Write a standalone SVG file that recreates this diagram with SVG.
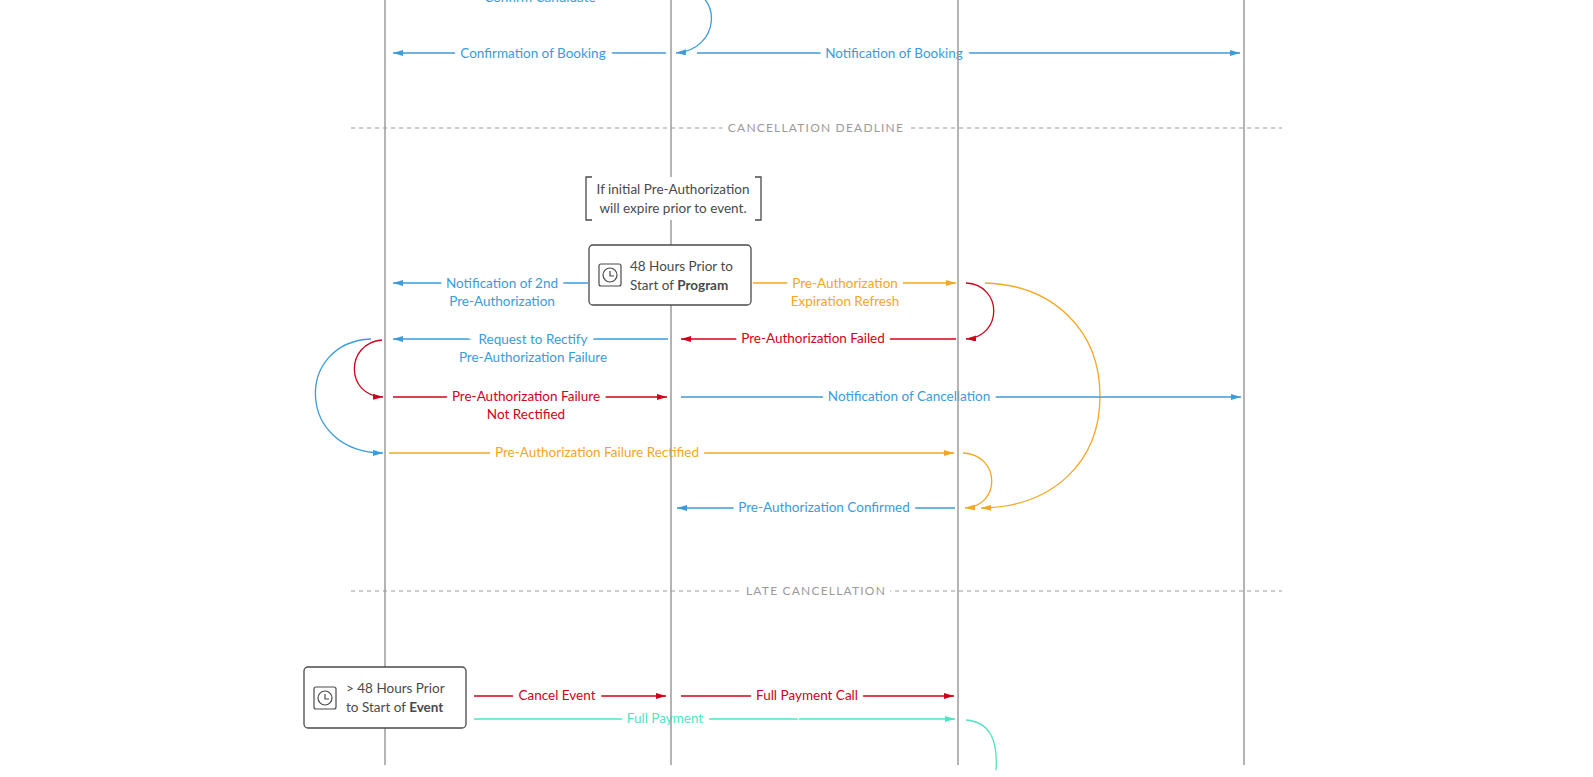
<svg xmlns="http://www.w3.org/2000/svg" width="1593" height="777" viewBox="0 0 1593 777">
<style>
text{font-family:Lato,"Liberation Sans",sans-serif;font-size:13.5px;text-anchor:middle}
.lbl{paint-order:stroke;stroke:#fff;stroke-width:12px;stroke-linejoin:miter}
.b{fill:#3b9bdb}.o{fill:#f5a623}.r{fill:#d0021b}.t{fill:#50e3c2}
.lb{stroke:#3b9bdb}.lo{stroke:#f5a623}.lr{stroke:#d0021b}.lt{stroke:#50e3c2}
.c path,.c line{fill:none;stroke-width:1.3}
.life{stroke:#9b9b9b;stroke-width:1.5}
.dash{stroke:#9b9b9b;stroke-width:1;stroke-dasharray:4 4}
.sec{fill:#9b9b9b;font-size:12px;letter-spacing:1.2px}
.box{fill:#fff;stroke:#4a4a4a;stroke-width:1.3}
.nt{fill:#4a4a4a;text-anchor:start}
</style>
<defs>
<marker id="mb" viewBox="0 0 10 6" refX="10" refY="3" markerWidth="10" markerHeight="6" markerUnits="userSpaceOnUse" orient="auto"><path d="M0 0L10 3L0 6z" fill="#3b9bdb"/></marker>
<marker id="mo" viewBox="0 0 10 6" refX="10" refY="3" markerWidth="10" markerHeight="6" markerUnits="userSpaceOnUse" orient="auto"><path d="M0 0L10 3L0 6z" fill="#f5a623"/></marker>
<marker id="mr" viewBox="0 0 10 6" refX="10" refY="3" markerWidth="10" markerHeight="6" markerUnits="userSpaceOnUse" orient="auto"><path d="M0 0L10 3L0 6z" fill="#d0021b"/></marker>
<marker id="mt" viewBox="0 0 10 6" refX="10" refY="3" markerWidth="10" markerHeight="6" markerUnits="userSpaceOnUse" orient="auto"><path d="M0 0L10 3L0 6z" fill="#50e3c2"/></marker>
</defs>
<rect width="1593" height="777" fill="#fff"/>
<g id="sections">
<line class="dash" x1="351" y1="128" x2="1282" y2="128"/>
<text class="sec lbl" x="816" y="132">CANCELLATION DEADLINE</text>
<line class="dash" x1="351" y1="591" x2="1282" y2="591"/>
<text class="sec lbl" x="816" y="595">LATE CANCELLATION</text>
</g>
<g id="connectors" class="c">
<path class="lb" d="M680 -13C725 -8 720 50 676 53" marker-end="url(#mb)"/>
<line class="lb" x1="666" y1="53" x2="393" y2="53" marker-end="url(#mb)"/>
<line class="lb" x1="697" y1="53" x2="1240" y2="53" marker-end="url(#mb)"/>
<line class="lb" x1="588" y1="283" x2="393" y2="283" marker-end="url(#mb)"/>
<line class="lo" x1="753" y1="283" x2="956" y2="283" marker-end="url(#mo)"/>
<path class="lr" d="M966 283C1003 285 1003 337 966 339" marker-end="url(#mr)"/>
<path class="lo" d="M985 283C1053 285 1100 330 1100 396C1100 462 1053 507 981 508" marker-end="url(#mo)"/>
<line class="lr" x1="956" y1="339" x2="681" y2="339" marker-end="url(#mr)"/>
<line class="lb" x1="668" y1="339" x2="393" y2="339" marker-end="url(#mb)"/>
<path class="lb" d="M371 339C295 342 295 452 383 453" marker-end="url(#mb)"/>
<path class="lr" d="M382 340C345 343 345 396 383 397" marker-end="url(#mr)"/>
<line class="lr" x1="393" y1="397" x2="667" y2="397" marker-end="url(#mr)"/>
<line class="lb" x1="681" y1="397" x2="1241" y2="397" marker-end="url(#mb)"/>
<line class="lo" x1="389" y1="453" x2="954" y2="453" marker-end="url(#mo)"/>
<path class="lo" d="M963 453C1001 455 1001 506 965 508" marker-end="url(#mo)"/>
<line class="lb" x1="955" y1="508" x2="677" y2="508" marker-end="url(#mb)"/>
<line class="lr" x1="474" y1="696" x2="666" y2="696" marker-end="url(#mr)"/>
<line class="lr" x1="681" y1="696" x2="954" y2="696" marker-end="url(#mr)"/>
<line class="lt" x1="474" y1="719" x2="955" y2="719" marker-end="url(#mt)"/>
<path class="lt" d="M966 720C990 722 998 740 996 770"/>
</g>
<g id="labels">
<text class="b lbl" x="540" y="2">Confirm Candidate</text>
<text class="b lbl" x="533" y="58">Confirmation of Booking</text>
<text class="b lbl" x="894" y="58">Notification of Booking</text>
<text class="b lbl" x="502" y="288">Notification of 2nd</text>
<text class="b" x="502" y="306">Pre-Authorization</text>
<text class="o lbl" x="845" y="288">Pre-Authorization</text>
<text class="o" x="845" y="306">Expiration Refresh</text>
<text class="r lbl" x="813" y="343">Pre-Authorization Failed</text>
<text class="b lbl" x="533" y="344">Request to Rectify</text>
<text class="b" x="533" y="362">Pre-Authorization Failure</text>
<text class="r lbl" x="526" y="401">Pre-Authorization Failure</text>
<text class="r" x="526" y="419">Not Rectified</text>
<text class="b lbl" x="909" y="401">Notification of Cancellation</text>
<text class="o lbl" x="597" y="457">Pre-Authorization Failure Rectified</text>
<text class="b lbl" x="824" y="512">Pre-Authorization Confirmed</text>
<text class="r lbl" x="557" y="700">Cancel Event</text>
<text class="r lbl" x="807" y="700">Full Payment Call</text>
<text class="t lbl" x="665" y="723">Full Payment</text>
</g>
<g id="lifelines">
<line class="life" x1="385" y1="0" x2="385" y2="765"/>
<line class="life" x1="671" y1="0" x2="671" y2="765"/>
<line class="life" x1="958" y1="0" x2="958" y2="765"/>
<line class="life" x1="1244" y1="0" x2="1244" y2="765"/>
</g>
<g id="note-preauth">
<rect x="586" y="177" width="175" height="43" fill="#fff"/>
<path d="M592 177H586V220H592M755 177H761V220H755" fill="none" stroke="#4a4a4a" stroke-width="1.3"/>
<text x="673" y="194" fill="#4a4a4a">If initial Pre-Authorization</text>
<text x="673" y="213" fill="#4a4a4a">will expire prior to event.</text>
</g>
<g id="timer-program">
<rect class="box" x="589" y="245" width="162" height="60" rx="4"/>
<rect x="599" y="264" width="22" height="22" rx="2" fill="none" stroke="#4a4a4a" stroke-width="1.2"/>
<circle cx="610" cy="275" r="7" fill="none" stroke="#4a4a4a" stroke-width="1.2"/>
<path d="M610 271V276H614" fill="none" stroke="#4a4a4a" stroke-width="1.2"/>
<text class="nt" x="630" y="271">48 Hours Prior to</text>
<text class="nt" x="630" y="290">Start of <tspan font-weight="bold">Program</tspan></text>
</g>
<g id="timer-event">
<rect class="box" x="304" y="667" width="162" height="61" rx="4"/>
<rect x="314" y="687" width="22" height="22" rx="2" fill="none" stroke="#4a4a4a" stroke-width="1.2"/>
<circle cx="325" cy="698" r="7" fill="none" stroke="#4a4a4a" stroke-width="1.2"/>
<path d="M325 694V699H329" fill="none" stroke="#4a4a4a" stroke-width="1.2"/>
<text class="nt" x="346" y="693">&gt; 48 Hours Prior</text>
<text class="nt" x="346" y="712">to Start of <tspan font-weight="bold">Event</tspan></text>
</g>
</svg>
